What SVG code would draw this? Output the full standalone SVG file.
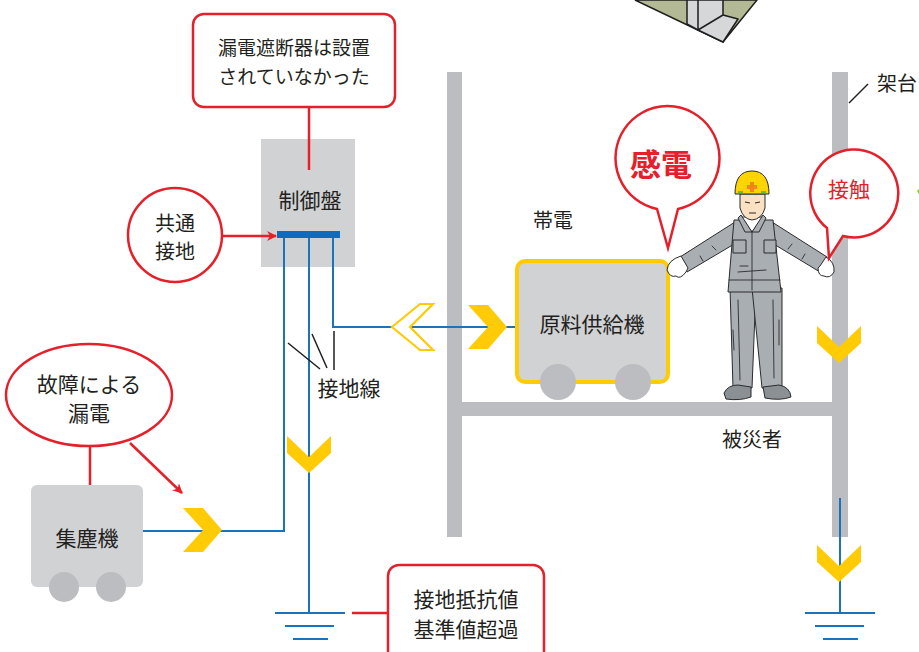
<svg xmlns="http://www.w3.org/2000/svg" width="919" height="652" viewBox="0 0 919 652">
  <defs>
    <style>
      .txt { font-family: "Noto Sans CJK JP", "Noto Sans", sans-serif; fill: #231f20; dominant-baseline: central; text-anchor: middle; }
      .red-txt { font-family: "Noto Sans CJK JP", "Noto Sans", sans-serif; fill: #e5202a; dominant-baseline: central; text-anchor: middle; }
      .callout { fill: #ffffff; stroke: #e5202a; stroke-width: 2.5; }
      .redline { fill: none; stroke: #e5202a; stroke-width: 2.5; }
      .wire { fill: none; stroke: #1a73bc; stroke-width: 2; }
      .chev { fill: #ffcb05; }
      .frame { fill: #bcbdc1; }
      .machine { fill: #d1d2d4; }
      .wheel { fill: #bcbdc1; }
      .outline { stroke: #2b2b2b; stroke-width: 1; stroke-linejoin: round; }
      .crease { fill: none; stroke: #2b2b2b; stroke-width: 0.9; stroke-linecap: round; }
    </style>
    <marker id="redArrow" markerWidth="10" markerHeight="10" refX="9" refY="5" orient="auto" markerUnits="userSpaceOnUse">
      <path d="M0,0 L10,5 L0,10 L3,5 Z" fill="#e5202a"/>
    </marker>
    <path id="chevDown" d="M-22,-18 L0,3 L22,-18 L22,-1 L0,19 L-22,-1 Z"/>
    <path id="chevRight" d="M-19,-22 L1,0 L-19,22 L1,22 L20,0 L1,-22 Z"/>
  </defs>

  <rect width="919" height="652" fill="#ffffff"/>

  <!-- machinery corner at the top edge -->
  <g id="corner-object">
    <path d="M635,0 L723,42 L757,0 Z" fill="#b3b994" stroke="#1e1e1e" stroke-width="1.5"/>
    <path d="M687,0 L687,24 L698,30 L723,42 L738,19 L723,15 L723,0 Z" fill="#d6d7d9" stroke="#1e1e1e" stroke-width="1.5" stroke-linejoin="round"/>
    <path d="M698,0 L698,30 M698,30 L723,15" fill="none" stroke="#1e1e1e" stroke-width="1.5"/>
  </g>

  <!-- steel frame -->
  <g id="frame">
    <rect class="frame" x="447" y="72" width="15" height="465"/>
    <rect class="frame" x="832" y="72" width="16" height="465"/>
    <rect class="frame" x="462" y="402" width="370" height="14"/>
    <path d="M849,103 L868,84" stroke="#231f20" stroke-width="1.5"/>
    <text class="txt" x="897" y="82" font-size="20">架台</text>
  </g>

  <!-- control panel -->
  <g id="control-panel">
    <rect class="machine" x="261" y="139" width="94" height="128"/>
    <text class="txt" x="310" y="199" font-size="21">制御盤</text>
    <rect x="277" y="231" width="63" height="7" fill="#0f6bbd"/>
  </g>

  <!-- connectors -->
  <g id="connectors">
    <!-- earthing wires -->
    <path class="wire" d="M284,238 L284,531 L143,531"/>
    <path class="wire" d="M309,238 L309,613"/>
    <path class="wire" d="M333,238 L333,327 L515,327"/>
    <path class="wire" d="M840,498 L840,613"/>
    <!-- ground symbols -->
    <path class="wire" d="M275,613 L345,613 M285,626 L334,626 M293,639 L328,639" stroke-width="2.5"/>
    <path class="wire" d="M805,613 L875,613 M815,626 L864,626 M823,639 L858,639" stroke-width="2.5"/>
    <!-- red leaders -->
    <path class="redline" d="M309,107 L309,170"/>
    <path class="redline" d="M220,236 L276,236" marker-end="url(#redArrow)"/>
    <path class="redline" d="M90,446 L90,485"/>
    <path class="redline" d="M130,443 L182,493" marker-end="url(#redArrow)"/>
    <path class="redline" d="M352,613 L388,613"/>
    <!-- leader lines of the earthing wire label -->
    <path d="M288,343 L320,369 M312,334 L327,368 M334,331 L334,370" stroke="#231f20" stroke-width="1.5" fill="none"/>
    <!-- current flow chevrons -->
    <use href="#chevRight" class="chev" x="202" y="530"/>
    <use href="#chevRight" class="chev" x="487" y="327"/>
    <path d="M392,327 L420,304 L433,304 L410,327 L433,350 L420,350 Z" fill="#ffffff" stroke="#ffcb05" stroke-width="2.2" stroke-linejoin="miter"/>
    <use href="#chevDown" class="chev" x="309" y="454"/>
    <use href="#chevDown" class="chev" x="839" y="344"/>
    <use href="#chevDown" class="chev" x="839" y="563"/>
  </g>

  <!-- callout: no earth leakage breaker -->
  <g id="note-breaker">
    <rect class="callout" x="193" y="14" width="202" height="93" rx="11"/>
    <text class="txt" x="294" y="46" font-size="19">漏電遮断器は設置</text>
    <text class="txt" x="294" y="75" font-size="19">されていなかった</text>
  </g>

  <!-- callout: common earthing -->
  <g id="note-common-earth">
    <circle class="callout" cx="175" cy="235" r="47"/>
    <text class="txt" x="175" y="222" font-size="20">共通</text>
    <text class="txt" x="175" y="250" font-size="20">接地</text>
  </g>

  <!-- callout: leakage by failure -->
  <g id="note-leakage">
    <ellipse class="callout" cx="89" cy="395" rx="83" ry="51"/>
    <text class="txt" x="89" y="383" font-size="21">故障による</text>
    <text class="txt" x="89" y="412" font-size="21">漏電</text>
  </g>

  <!-- dust collector -->
  <g id="dust-collector">
    <rect class="machine" x="31" y="485" width="112" height="102" rx="6"/>
    <circle class="wheel" cx="64" cy="587" r="15"/>
    <circle class="wheel" cx="111" cy="587" r="15"/>
    <text class="txt" x="87" y="537" font-size="21">集塵機</text>
  </g>

  <!-- earthing wire label -->
  <g id="label-earth-wire">
    <text class="txt" x="349" y="387" font-size="21">接地線</text>
  </g>

  <!-- callout: earth resistance over limit -->
  <g id="note-resistance">
    <rect class="callout" x="388" y="565" width="156" height="110" rx="11"/>
    <text class="txt" x="466" y="598" font-size="21">接地抵抗値</text>
    <text class="txt" x="466" y="628" font-size="21">基準値超過</text>
  </g>

  <!-- raw material feeder -->
  <g id="feeder">
    <text class="txt" x="553" y="219" font-size="20">帯電</text>
    <rect class="machine" x="517" y="261" width="151" height="121" rx="8" stroke="#ffcb05" stroke-width="4"/>
    <circle class="wheel" cx="558" cy="382" r="18"/>
    <circle class="wheel" cx="633" cy="382" r="18"/>
    <text class="txt" x="592" y="323" font-size="21">原料供給機</text>
  </g>

  <!-- callout: electric shock -->
  <g id="note-shock">
    <path class="callout" d="M657,209 A52,52 0 1 1 678,209 L668,248 Z"/>
    <text class="red-txt" x="661" y="162" font-size="31" font-weight="bold">感電</text>
  </g>

  <!-- injured worker -->
  <g id="worker">
    <!-- legs -->
    <path class="outline" d="M730,288 L756,288 L752,388 L733,388 Z" fill="#a9aeb3"/>
    <path class="outline" d="M752,288 L782,288 L782,388 L762,388 Z" fill="#a9aeb3"/>
    <path class="crease" d="M738,300 L740,380 M773,300 L774,378 M733,330 L734,350 M779,320 L779,345"/>
    <path class="outline" d="M724,393 Q728,385 738,385 L751,387 L751,397 Q740,401 726,399 Z" fill="#8b9095"/>
    <path class="outline" d="M763,387 L779,385 Q790,387 791,397 Q780,401 765,398 Z" fill="#8b9095"/>
    <!-- arms -->
    <path class="outline" d="M735,222 L741,240 L687,272 L680,257 Z" fill="#a9aeb3"/>
    <path class="outline" d="M772,222 L767,240 L820,272 L827,257 Z" fill="#a9aeb3"/>
    <path class="crease" d="M712,246 L716,250 M792,244 L788,249 M700,256 L703,261 M805,254 L802,259"/>
    <!-- gloves -->
    <path class="outline" d="M681,256 Q668,260 667,270 Q670,278 676,276 Q680,280 686,272 L688,268 Z" fill="#ffffff"/>
    <path class="outline" d="M826,257 Q835,262 834,272 Q830,279 824,276 Q818,276 818,268 L820,266 Z" fill="#ffffff"/>
    <!-- jacket -->
    <path class="outline" d="M734,220 L773,220 L781,292 L728,292 Z" fill="#a9aeb3"/>
    <path class="crease" d="M729,280 L780,280 M752,232 L752,290 M738,272 L766,270 M740,266 L748,266"/>
    <path class="outline" d="M733,240 L746,240 L746,253 L733,253 Z" fill="#a9aeb3"/>
    <path class="outline" d="M764,240 L776,240 L776,253 L764,253 Z" fill="#a9aeb3"/>
    <!-- collar and shirt -->
    <path class="outline" d="M741,217 L752,232 L763,217 Z" fill="#ffffff"/>
    <path class="outline" d="M738,218 L745,232 L752,232 L741,215 Z M766,218 L759,232 L752,232 L763,215 Z" fill="#a9aeb3"/>
    <!-- head -->
    <path class="outline" d="M740,194 L740,208 Q743,219 752,220 Q762,219 765,208 L765,194 Z" fill="#fbe1c4"/>
    <path d="M745,202 L750,203 M755,203 L760,202 M749,213 L756,213" stroke="#2b2b2b" stroke-width="1.2"/>
    <!-- helmet -->
    <path class="outline" d="M735,194 Q735,171 752,171 Q769,171 769,194 Z" fill="#ffd400"/>
    <path d="M750,182 L754,182 L754,185 L757,185 L757,189 L754,189 L754,192 L750,192 L750,189 L747,189 L747,185 L750,185 Z" fill="#f58220"/>
    <path d="M738,192 L743,192 M761,192 L766,192" stroke="#3cb44a" stroke-width="1.5"/>
  </g>

  <!-- callout: contact -->
  <g id="note-contact">
    <path class="callout" d="M827,228 A44,44 0 1 1 843,236 L829,258 Z"/>
    <text class="red-txt" x="849" y="188" font-size="21">接触</text>
  </g>

  <!-- victim label -->
  <g id="label-victim">
    <text class="txt" x="752" y="438" font-size="20">被災者</text>
  </g>

  <!-- small green mark at the right edge -->
  <path d="M917,191 L919,189 L919,194 Z" fill="#8cc63f"/>
</svg>
